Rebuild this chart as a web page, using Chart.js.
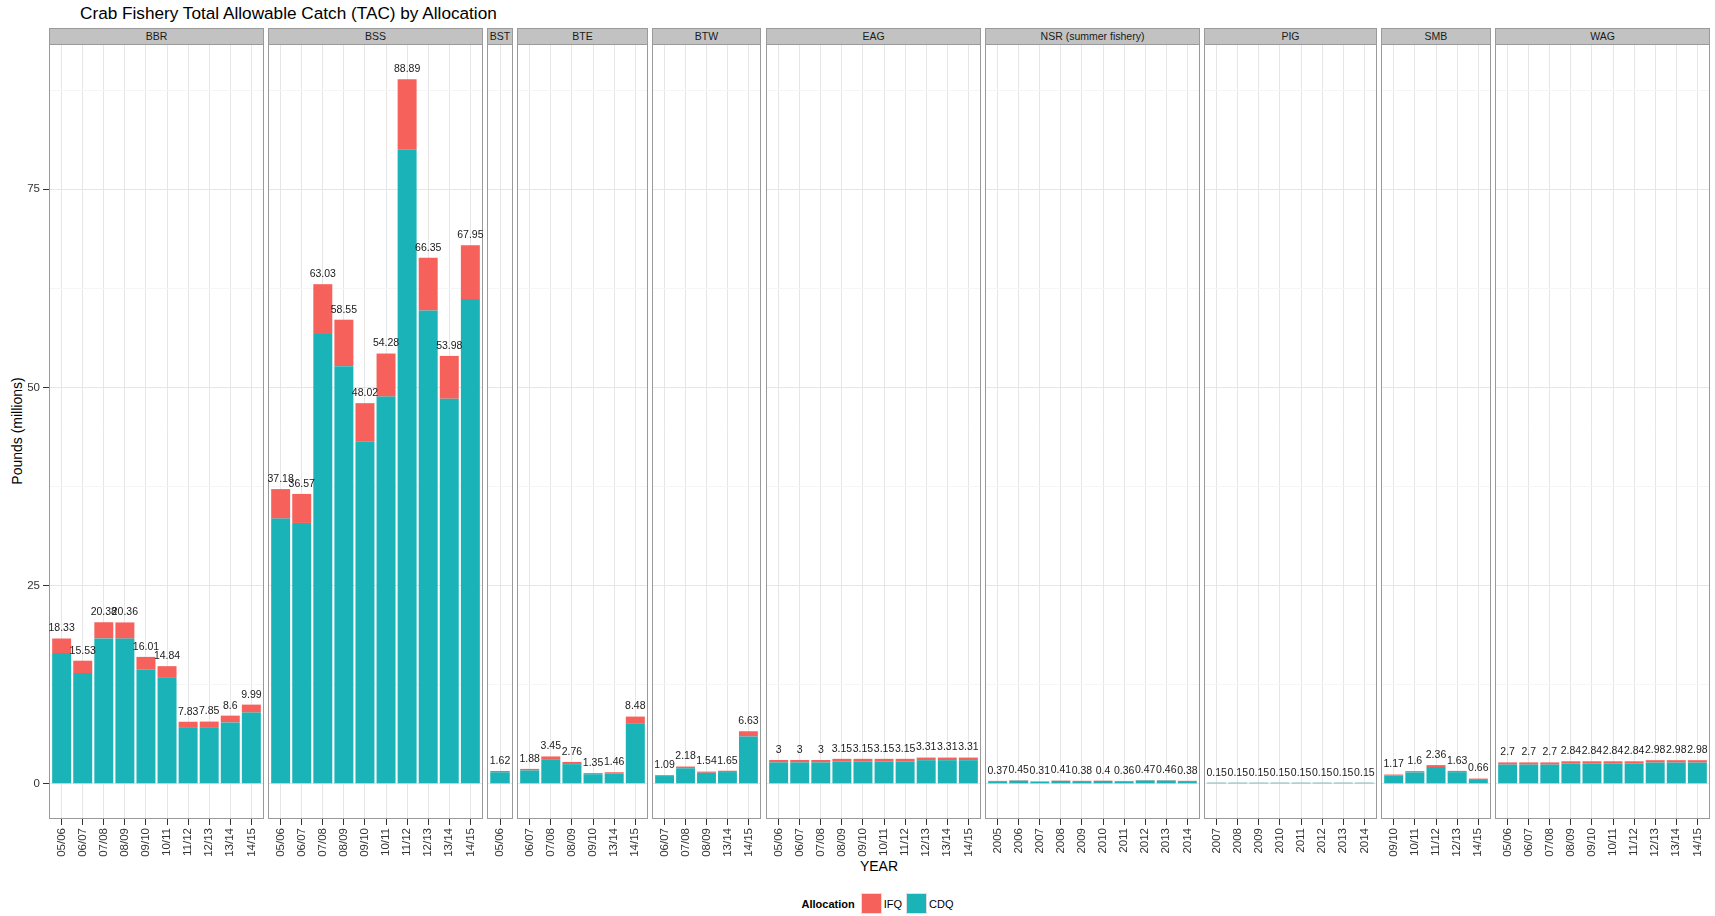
<!DOCTYPE html>
<html>
<head>
<meta charset="utf-8">
<script src="https://cdn.jsdelivr.net/npm/chart.js@4.4.1/dist/chart.umd.min.js"></script>
<style>
  body { margin: 0; width: 1715px; height: 916px; background: #fff; position: relative; overflow: hidden;
         font-family: "Liberation Sans", Arial, sans-serif; }
  #title { position: absolute; left: 80px; top: 3px; font-size: 17.2px; line-height: 20px; color: #000; white-space: nowrap; }
  .strip { position: absolute; top: 28px; height: 17px; background: #c2c2c2; border: 1px solid #9a9a9a; box-sizing: border-box;
           font-size: 10.5px; line-height: 15px; color: #1a1a1a; text-align: center; white-space: nowrap; overflow: hidden; }
  canvas { position: absolute; }
  #ytitle { position: absolute; left: -83px; top: 422px; width: 200px; text-align: center; font-size: 14px; line-height: 18px;
            transform: rotate(-90deg); white-space: nowrap; }
  #xtitle { position: absolute; left: 779px; top: 858px; width: 200px; text-align: center; font-size: 14px; line-height: 17px; }
  #legend { position: absolute; left: 0; width: 1759px; top: 893px; height: 21px; display: flex; justify-content: center;
            align-items: center; font-size: 11px; }
  #legend b { margin-right: 6px; }
  #legend .key { width: 21px; height: 21px; box-sizing: border-box; border: 1px solid #e0e0e0; margin-right: 2px; }
  #legend .lab { margin-right: 4px; }
</style>
</head>
<body>
<div id="title">Crab Fishery Total Allowable Catch (TAC) by Allocation</div>
<div id="ytitle">Pounds (millions)</div>
<div id="xtitle">YEAR</div>
<div id="legend">
  <b>Allocation</b>
  <span class="key" id="keyIfq"></span><span class="lab">IFQ</span>
  <span class="key" id="keyCdq"></span><span class="lab">CDQ</span>
</div>
<script>
// values, millions of pounds
const bbrYears = ['05/06', '06/07', '07/08', '08/09', '09/10', '10/11', '11/12', '12/13', '13/14', '14/15'];
const bbrCdq = [16.50, 13.98, 18.34, 18.32, 14.41, 13.36, 7.05, 7.06, 7.74, 8.99];
const bbrIfq = [1.83, 1.55, 2.04, 2.04, 1.60, 1.48, 0.78, 0.79, 0.86, 1.00];

const bssYears = ['05/06', '06/07', '07/08', '08/09', '09/10', '10/11', '11/12', '12/13', '13/14', '14/15'];
const bssCdq = [33.46, 32.91, 56.73, 52.69, 43.22, 48.85, 80.00, 59.71, 48.58, 61.15];
const bssIfq = [3.72, 3.66, 6.30, 5.86, 4.80, 5.43, 8.89, 6.64, 5.40, 6.80];

const bstYears = ['05/06'];
const bstCdq = [1.46];
const bstIfq = [0.16];

const bteYears = ['06/07', '07/08', '08/09', '09/10', '13/14', '14/15'];
const bteCdq = [1.69, 3.10, 2.48, 1.21, 1.31, 7.63];
const bteIfq = [0.19, 0.35, 0.28, 0.14, 0.15, 0.85];

const btwYears = ['06/07', '07/08', '08/09', '13/14', '14/15'];
const btwCdq = [0.98, 1.96, 1.39, 1.48, 5.97];
const btwIfq = [0.11, 0.22, 0.15, 0.17, 0.66];

const eagYears = ['05/06', '06/07', '07/08', '08/09', '09/10', '10/11', '11/12', '12/13', '13/14', '14/15'];
const eagCdq = [2.70, 2.70, 2.70, 2.83, 2.83, 2.83, 2.83, 2.98, 2.98, 2.98];
const eagIfq = [0.30, 0.30, 0.30, 0.32, 0.32, 0.32, 0.32, 0.33, 0.33, 0.33];

const nsrYears = ['2005', '2006', '2007', '2008', '2009', '2010', '2011', '2012', '2013', '2014'];
const nsrCdq = [0.33, 0.40, 0.28, 0.37, 0.34, 0.36, 0.32, 0.42, 0.41, 0.34];
const nsrIfq = [0.04, 0.05, 0.03, 0.04, 0.04, 0.04, 0.04, 0.05, 0.05, 0.04];

const pigYears = ['2007', '2008', '2009', '2010', '2011', '2012', '2013', '2014'];
const pigCdq = [0.135, 0.135, 0.135, 0.135, 0.135, 0.135, 0.135, 0.135];
const pigIfq = [0.015, 0.015, 0.015, 0.015, 0.015, 0.015, 0.015, 0.015];

const smbYears = ['09/10', '10/11', '11/12', '12/13', '14/15'];
const smbCdq = [1.05, 1.44, 2.12, 1.47, 0.59];
const smbIfq = [0.12, 0.16, 0.24, 0.16, 0.07];

const wagYears = ['05/06', '06/07', '07/08', '08/09', '09/10', '10/11', '11/12', '12/13', '13/14', '14/15'];
const wagCdq = [2.43, 2.43, 2.43, 2.56, 2.56, 2.56, 2.56, 2.68, 2.68, 2.68];
const wagIfq = [0.27, 0.27, 0.27, 0.28, 0.28, 0.28, 0.28, 0.30, 0.30, 0.30];

const yGridValues = [0, 12.5, 25, 37.5, 50, 62.5, 75, 87.5];
const yTickLabels = [0, 25, 50, 75];

const panels = [
  { name: 'BBR', years: bbrYears, cdq: bbrCdq, ifq: bbrIfq },
  { name: 'BSS', years: bssYears, cdq: bssCdq, ifq: bssIfq },
  { name: 'BST', years: bstYears, cdq: bstCdq, ifq: bstIfq },
  { name: 'BTE', years: bteYears, cdq: bteCdq, ifq: bteIfq },
  { name: 'BTW', years: btwYears, cdq: btwCdq, ifq: btwIfq },
  { name: 'EAG', years: eagYears, cdq: eagCdq, ifq: eagIfq },
  { name: 'NSR (summer fishery)', years: nsrYears, cdq: nsrCdq, ifq: nsrIfq },
  { name: 'PIG', years: pigYears, cdq: pigCdq, ifq: pigIfq },
  { name: 'SMB', years: smbYears, cdq: smbCdq, ifq: smbIfq },
  { name: 'WAG', years: wagYears, cdq: wagCdq, ifq: wagIfq }
];

const cdqColour = '#1ab3b8';
const ifqColour = '#f6615c';
const gridMajor = '#e6e6e6';
const gridMinor = '#f5f5f5';
const fontFamily = '"Liberation Sans", Arial, sans-serif';

document.getElementById('keyIfq').style.background = ifqColour;
document.getElementById('keyCdq').style.background = cdqColour;

// ggplot style panel outline
const panelBorder = {
  id: 'panelBorder',
  afterDatasetsDraw(chart) {
    const a = chart.chartArea;
    const ctx = chart.ctx;
    ctx.save();
    ctx.strokeStyle = '#9a9a9a';
    ctx.lineWidth = 1;
    ctx.strokeRect(Math.round(a.left) + 0.5, Math.round(a.top) + 0.5,
                   Math.round(a.right - a.left) - 1, Math.round(a.bottom - a.top) - 1);
    ctx.restore();
  }
};

// total above each stack
const totalLabels = {
  id: 'totalLabels',
  afterDatasetsDraw(chart) {
    const ctx = chart.ctx;
    const cdq = chart.data.datasets[0].data;
    const ifq = chart.data.datasets[1].data;
    const topBars = chart.getDatasetMeta(1).data;
    ctx.save();
    ctx.font = '10.5px ' + fontFamily;
    ctx.fillStyle = '#1a1a1a';
    ctx.textAlign = 'center';
    ctx.textBaseline = 'middle';
    topBars.forEach((bar, i) => {
      let total = Math.round((cdq[i].y + ifq[i].y) * 100) / 100;
      ctx.fillText(String(total), bar.x, bar.y - 10);
    });
    ctx.restore();
  }
};

const plotLeft = 49, plotRight = 1710, panelGap = 4.5;
const canvasTop = 34, canvasHeight = 840, padTop = 10, padX = 10;
const weights = panels.map(p => p.years.length + 0.2);
const unit = (plotRight - plotLeft - panelGap * (panels.length - 1)) / weights.reduce((a, b) => a + b, 0);

let xPos = plotLeft;
panels.forEach((p, i) => {
  const left = Math.round(xPos);
  const right = Math.round(xPos + weights[i] * unit);
  xPos += weights[i] * unit + panelGap;
  const first = i === 0;

  let strip = document.createElement('div');
  strip.className = 'strip';
  strip.style.left = left + 'px';
  strip.style.width = (right - left) + 'px';
  strip.textContent = p.name;
  document.body.appendChild(strip);

  let canvas = document.createElement('canvas');
  const cLeft = first ? 0 : left - padX;
  canvas.width = right - cLeft + padX;
  canvas.height = canvasHeight;
  canvas.style.left = cLeft + 'px';
  canvas.style.top = canvasTop + 'px';
  document.body.appendChild(canvas);

  new Chart(canvas, {
    type: 'bar',
    data: {
      datasets: [
        { label: 'CDQ', data: p.cdq.map((v, k) => ({ x: k, y: v })), backgroundColor: cdqColour },
        { label: 'IFQ', data: p.ifq.map((v, k) => ({ x: k, y: v })), backgroundColor: ifqColour }
      ]
    },
    options: {
      responsive: false,
      animation: false,
      events: [],
      layout: { padding: { left: first ? 0 : padX, right: padX, top: padTop, bottom: 0 } },
      datasets: { bar: { barPercentage: p.years.length > 1 ? 0.9 : 0.75, categoryPercentage: 1, borderWidth: 0 } },
      plugins: { legend: { display: false }, tooltip: { enabled: false } },
      scales: {
        x: {
          type: 'linear',
          stacked: true,
          offset: false,
          min: -0.6,
          max: p.years.length - 0.4,
          border: { display: false },
          grid: { offset: false, color: gridMajor, lineWidth: 1, drawTicks: true, tickLength: 6, tickColor: '#333' },
          ticks: {
            autoSkip: false, minRotation: 90, maxRotation: 90, padding: 3,
            font: { size: 11.5, family: fontFamily }, color: '#333',
            callback: v => p.years[v]
          },
          afterBuildTicks: s => { s.ticks = p.years.map((_, k) => ({ value: k })); },
          afterFit: s => { s.height = 55; }
        },
        y: {
          stacked: true,
          min: -4.44,
          max: 93.33,
          border: { display: false },
          grid: {
            color: c => yTickLabels.includes(c.tick.value) ? gridMajor : gridMinor,
            lineWidth: 1,
            drawTicks: first,
            tickLength: 6,
            tickColor: c => yTickLabels.includes(c.tick.value) ? '#333' : 'rgba(0,0,0,0)'
          },
          ticks: {
            display: first, padding: 3,
            font: { size: 11.5, family: fontFamily }, color: '#333',
            callback: v => yTickLabels.includes(v) ? String(v) : ''
          },
          afterBuildTicks: s => { s.ticks = yGridValues.map(v => ({ value: v })); },
          afterFit: s => { s.width = first ? 49 : 0; }
        }
      }
    },
    plugins: [panelBorder, totalLabels]
  });
});
</script>
</body>
</html>
